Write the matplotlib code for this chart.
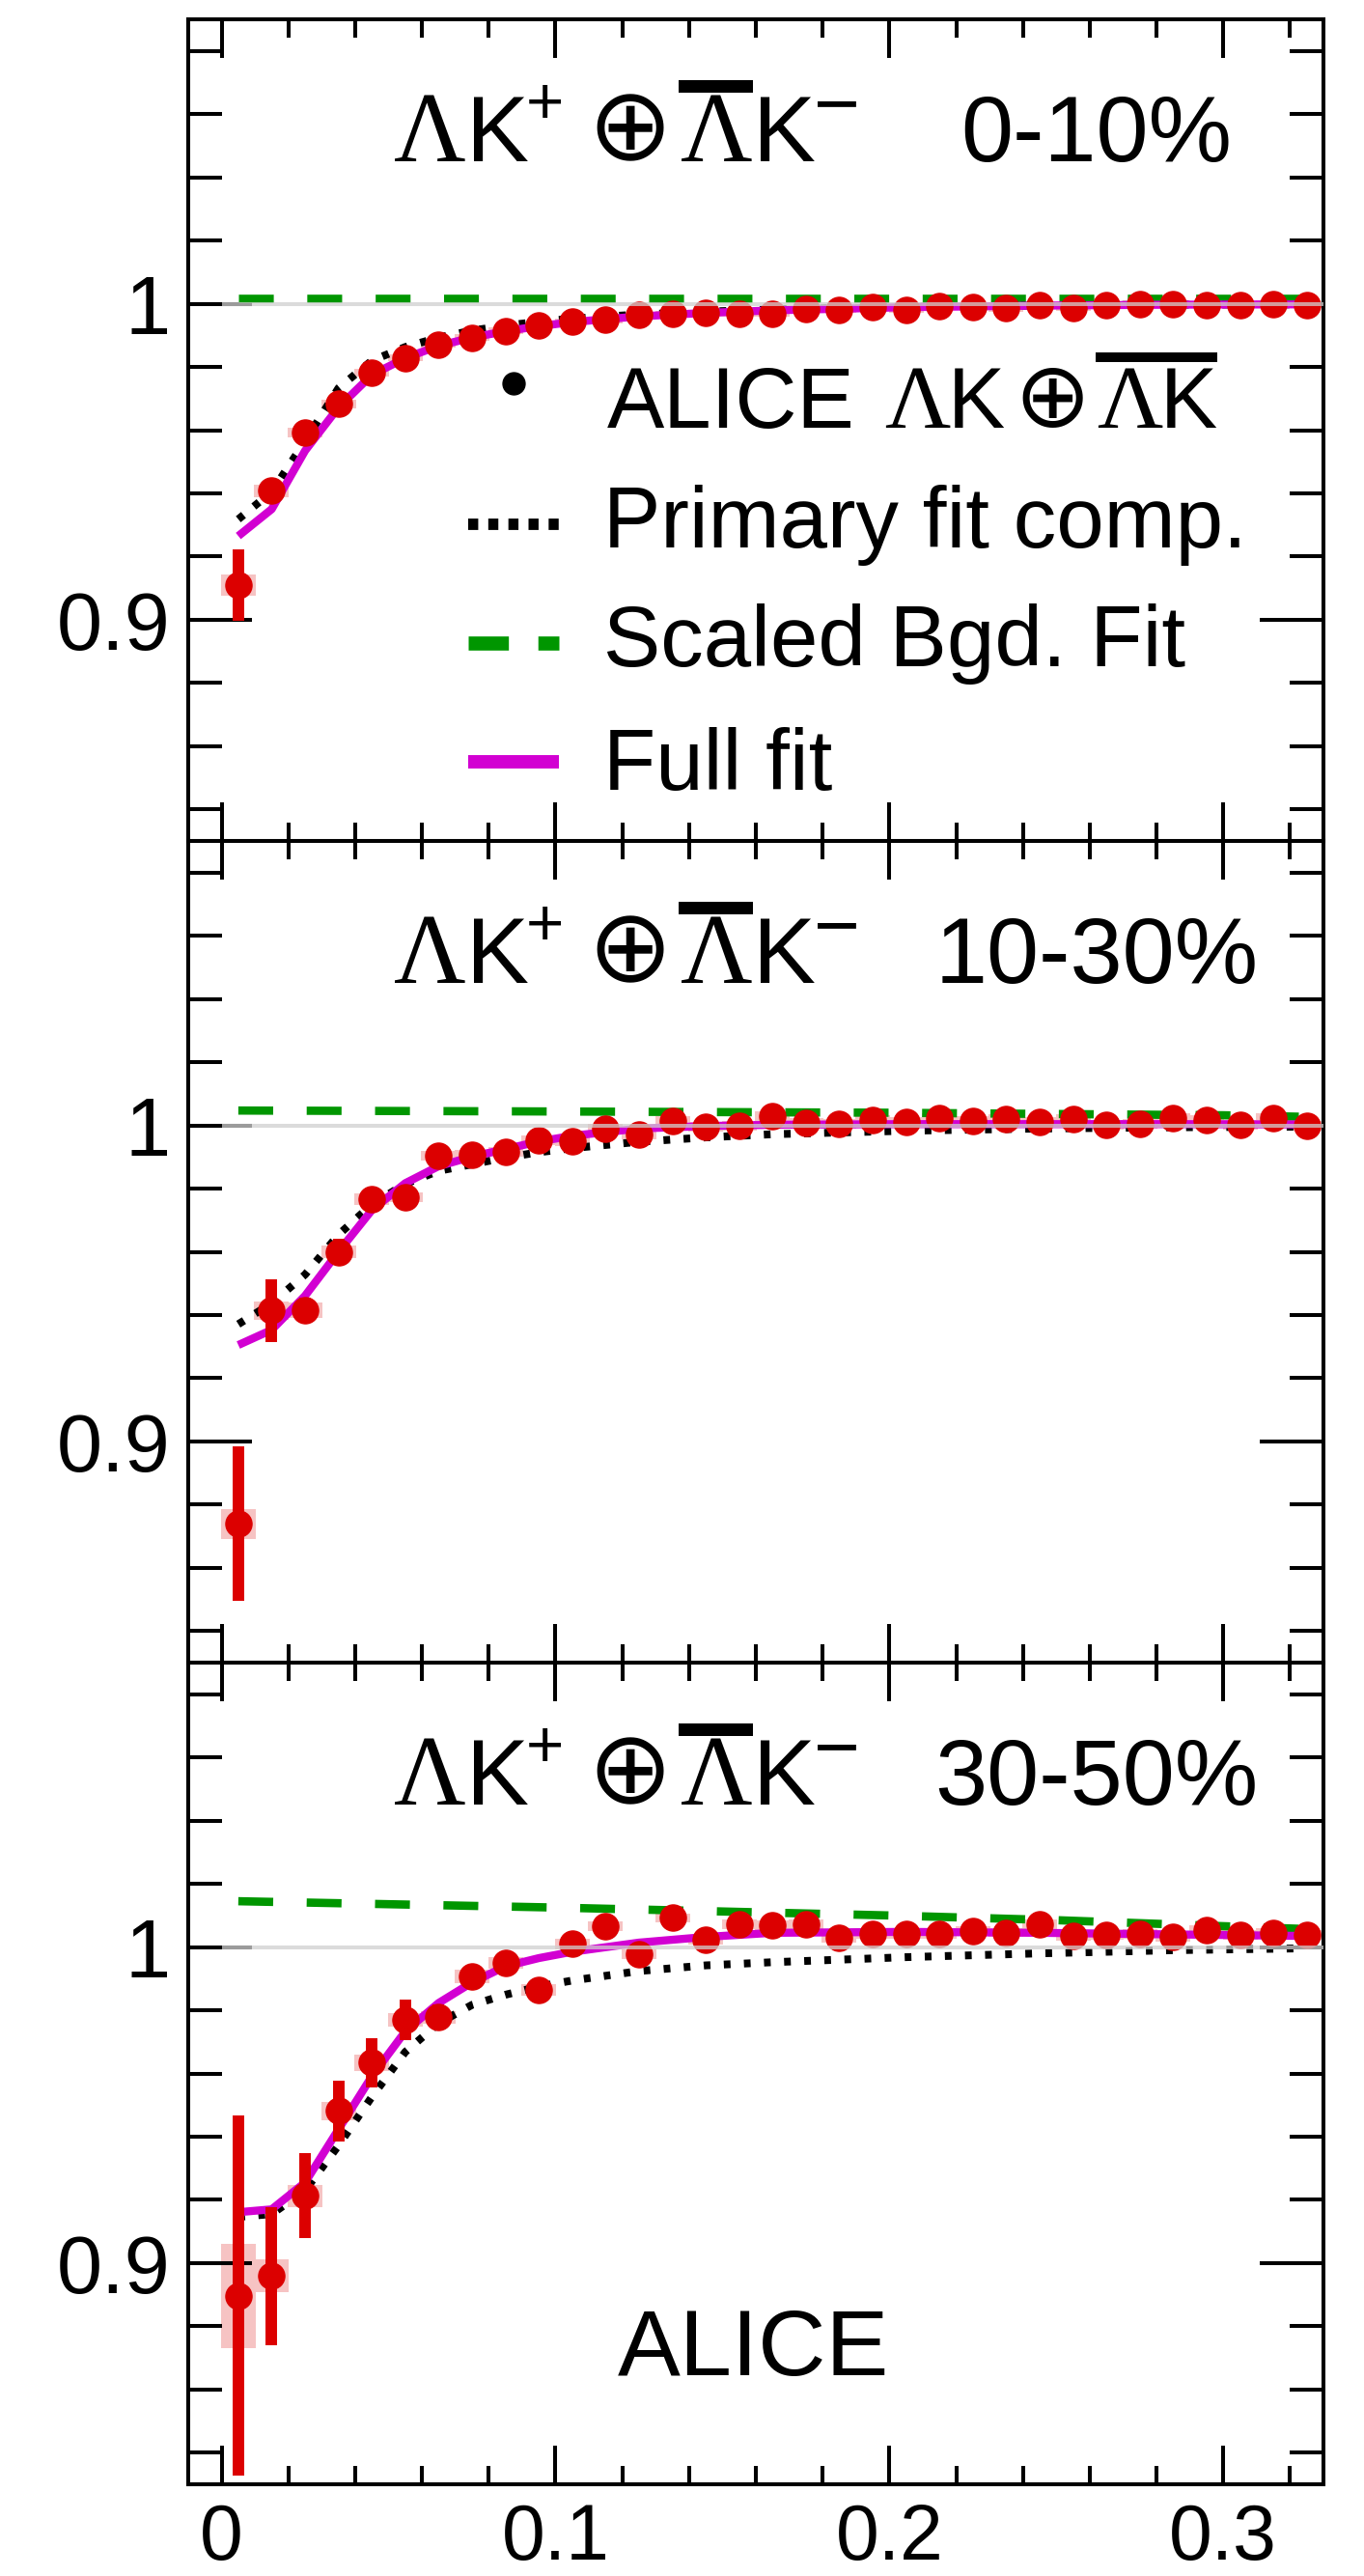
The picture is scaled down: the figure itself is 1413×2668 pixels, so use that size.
import numpy as np
import matplotlib
matplotlib.use("Agg")
import matplotlib.pyplot as plt
from matplotlib.patches import Rectangle
from matplotlib.lines import Line2D
from matplotlib.textpath import TextPath
from matplotlib.font_manager import FontProperties
from matplotlib.ticker import FixedLocator, FixedFormatter, MultipleLocator, FuncFormatter

plt.rcParams["font.family"] = ["Liberation Sans", "DejaVu Sans"]
plt.rcParams["lines.scale_dashes"] = False
plt.rcParams["lines.solid_capstyle"] = "butt"
plt.rcParams["lines.dash_capstyle"] = "butt"

# ------------------------------------------------------------------ data
centralities = ["0-10%", "10-30%", "30-50%"]

kstar = [0.005, 0.015, 0.025, 0.035, 0.045, 0.055, 0.065, 0.075, 0.085, 0.095,
         0.105, 0.115, 0.125, 0.135, 0.145, 0.155, 0.165, 0.175, 0.185, 0.195,
         0.205, 0.215, 0.225, 0.235, 0.245, 0.255, 0.265, 0.275, 0.285, 0.295,
         0.305, 0.315, 0.325]

cf_0_10 = [0.9110, 0.9408, 0.9593, 0.9683, 0.9781, 0.9829, 0.9870, 0.9893, 0.9914, 0.9932,
           0.9944, 0.9949, 0.9964, 0.9968, 0.9970, 0.9969, 0.9969, 0.9982, 0.9980, 0.9990,
           0.9980, 0.9992, 0.9990, 0.9985, 0.9995, 0.9988, 0.9995, 1.0000, 1.0000, 0.9995,
           0.9995, 1.0000, 0.9995]
stat_0_10 = [0.0112, 0.0030, 0.0025, 0.0022, 0.0020, 0.0018, 0.0017, 0.0016, 0.0015, 0.0015,
             0.0015, 0.0015, 0.0015, 0.0015, 0.0015, 0.0015, 0.0015, 0.0015, 0.0015, 0.0015,
             0.0015, 0.0015, 0.0015, 0.0015, 0.0015, 0.0015, 0.0015, 0.0015, 0.0015, 0.0015,
             0.0015, 0.0015, 0.0015]
sys_0_10 = [0.0033, 0.0020, 0.0016, 0.0014, 0.0012, 0.0011, 0.0010, 0.0010, 0.0010, 0.0010,
            0.0010, 0.0010, 0.0010, 0.0010, 0.0010, 0.0010, 0.0010, 0.0010, 0.0010, 0.0010,
            0.0010, 0.0010, 0.0010, 0.0010, 0.0010, 0.0010, 0.0010, 0.0010, 0.0010, 0.0010,
            0.0010, 0.0010, 0.0010]

cf_10_30 = [0.8739, 0.9414, 0.9416, 0.9600, 0.9767, 0.9773, 0.9903, 0.9906, 0.9915, 0.9952,
            0.9949, 0.9989, 0.9971, 1.0015, 0.9995, 0.9998, 1.0030, 1.0008, 1.0005, 1.0017,
            1.0012, 1.0022, 1.0014, 1.0019, 1.0010, 1.0020, 1.0001, 1.0006, 1.0023, 1.0018,
            1.0002, 1.0024, 0.9998]
stat_10_30 = [0.0244, 0.0099, 0.0040, 0.0042, 0.0030, 0.0030, 0.0025, 0.0025, 0.0022, 0.0022,
              0.0020, 0.0020, 0.0020, 0.0020, 0.0020, 0.0020, 0.0020, 0.0020, 0.0020, 0.0020,
              0.0020, 0.0020, 0.0020, 0.0020, 0.0020, 0.0020, 0.0020, 0.0020, 0.0020, 0.0020,
              0.0020, 0.0020, 0.0020]
sys_10_30 = [0.0048, 0.0030, 0.0025, 0.0020, 0.0018, 0.0016, 0.0015, 0.0015, 0.0015, 0.0015,
             0.0015, 0.0015, 0.0015, 0.0015, 0.0015, 0.0015, 0.0015, 0.0015, 0.0015, 0.0015,
             0.0015, 0.0015, 0.0015, 0.0015, 0.0015, 0.0015, 0.0015, 0.0015, 0.0015, 0.0015,
             0.0015, 0.0015, 0.0015]

cf_30_50 = [0.8897, 0.8959, 0.9213, 0.9481, 0.9634, 0.9769, 0.9778, 0.9907, 0.9950, 0.9865,
            1.0010, 1.0066, 0.9978, 1.0092, 1.0023, 1.0071, 1.0070, 1.0072, 1.0028, 1.0041,
            1.0041, 1.0041, 1.0052, 1.0046, 1.0072, 1.0034, 1.0038, 1.0041, 1.0031, 1.0054,
            1.0038, 1.0044, 1.0038]
stat_30_50 = [0.0570, 0.0218, 0.0135, 0.0095, 0.0077, 0.0065, 0.0040, 0.0032, 0.0030, 0.0030,
              0.0028, 0.0028, 0.0027, 0.0027, 0.0026, 0.0026, 0.0025, 0.0025, 0.0025, 0.0025,
              0.0025, 0.0025, 0.0025, 0.0025, 0.0025, 0.0025, 0.0025, 0.0025, 0.0025, 0.0025,
              0.0025, 0.0025, 0.0025]
sys_30_50 = [0.0165, 0.0052, 0.0035, 0.0030, 0.0025, 0.0022, 0.0020, 0.0020, 0.0018, 0.0018,
             0.0016, 0.0016, 0.0016, 0.0015, 0.0015, 0.0015, 0.0015, 0.0015, 0.0015, 0.0015,
             0.0015, 0.0015, 0.0015, 0.0015, 0.0015, 0.0015, 0.0015, 0.0015, 0.0015, 0.0015,
             0.0015, 0.0015, 0.0015]

# fit curves, sampled at bin centres
fit_kstar = [0.005, 0.015, 0.025, 0.035, 0.045, 0.055, 0.065, 0.075, 0.085, 0.095,
             0.105, 0.125, 0.145, 0.165, 0.205, 0.245, 0.285, 0.325]
full_0_10 = [0.9265, 0.9350, 0.9535, 0.9672, 0.9775, 0.9828, 0.9867, 0.9893, 0.9913, 0.9929,
             0.9942, 0.9960, 0.9971, 0.9979, 0.9989, 0.9994, 0.9997, 0.9998]
prim_0_10 = [0.9318, 0.9405, 0.9565, 0.9733, 0.9820, 0.9863, 0.9893, 0.9915, 0.9931, 0.9943,
             0.9953, 0.9966, 0.9975, 0.9982, 0.9990, 0.9994, 0.9997, 0.9998]
full_10_30 = [0.9305, 0.9353, 0.9461, 0.9600, 0.9732, 0.9817, 0.9871, 0.9901, 0.9925, 0.9949,
              0.9967, 0.9990, 0.9998, 1.0002, 1.0004, 1.0004, 1.0004, 1.0003]
prim_10_30 = [0.9371, 0.9437, 0.9528, 0.9654, 0.9750, 0.9815, 0.9856, 0.9877, 0.9898, 0.9915,
              0.9928, 0.9948, 0.9962, 0.9972, 0.9983, 0.9990, 0.9994, 0.9996]
full_30_50 = [0.9161, 0.9170, 0.9255, 0.9423, 0.9591, 0.9733, 0.9823, 0.9888, 0.9939, 0.9965,
              0.9985, 1.0014, 1.0032, 1.0045, 1.0048, 1.0045, 1.0040, 1.0035]
prim_30_50 = [0.9146, 0.9155, 0.9230, 0.9372, 0.9526, 0.9668, 0.9759, 0.9817, 0.9849, 0.9875,
              0.9894, 0.9924, 0.9942, 0.9952, 0.9968, 0.9980, 0.9990, 0.9996]

# scaled background fit
bgd_kstar = [0.005, 0.100, 0.200, 0.250, 0.300, 0.325]
bgd_0_10 = [1.0018, 1.0018, 1.0018, 1.0018, 1.0018, 1.0018]
bgd_10_30 = [1.0047, 1.0044, 1.0040, 1.0036, 1.0032, 1.0027]
bgd_30_50 = [1.0145, 1.0125, 1.0100, 1.0085, 1.0066, 1.0057]

panels = [
    (cf_0_10, stat_0_10, sys_0_10, full_0_10, prim_0_10, bgd_0_10),
    (cf_10_30, stat_10_30, sys_10_30, full_10_30, prim_10_30, bgd_10_30),
    (cf_30_50, stat_30_50, sys_30_50, full_30_50, prim_30_50, bgd_30_50),
]

# ------------------------------------------------------------------ style
RED = "#dc0000"
MAGENTA = "#d200d2"
GREEN = "#009600"
PINK = "#f6c3c3"
GRAY = "#d0d0d0"
SANS = "Liberation Sans"
SERIF = "Liberation Serif"
SYMB = "DejaVu Sans"

W_PX, H_PX, DPI = 1413, 2668, 100
LEFT_PX, RIGHT_PX = 195, 1371
TOP_PX, PANEL_PX = 20, 851

fig = plt.figure(figsize=(W_PX / DPI, H_PX / DPI), dpi=DPI)
PT2PX = DPI / 72.0


def ink_extent(s, family, size):
    tp = TextPath((0, 0), s, size=size, prop=FontProperties(family=family))
    return tp.get_extents()


def draw_formula(ax, x_axes, y_axes, pieces, size, bar_bottom=0.73, bar_thick=0.13):
    """Lay out text pieces left to right, by ink extent, from an axes anchor."""
    em = size * PT2PX
    x_px, base_px = ax.transAxes.transform((x_axes, y_axes))
    bar_l, bar_r = None, None
    for p in pieces:
        s, fam = p["s"], p.get("family", SANS)
        fs = size * p.get("scale", 1.0)
        if "height" in p:
            e1 = ink_extent(s, fam, 10.0)
            fs = p["height"] * size * 10.0 / e1.height
        if "width" in p:
            e1 = ink_extent(s, fam, 10.0)
            fs = p["width"] * size * 10.0 / e1.width
        ext = ink_extent(s, fam, fs)
        x_px += p.get("gap", 0.0) * em
        y = base_px
        if "center" in p:
            y = base_px + p["center"] * em - 0.5 * (ext.y0 + ext.y1) * PT2PX
        elif "bottom" in p:
            y = base_px + p["bottom"] * em - ext.y0 * PT2PX
        fig.text((x_px - ext.x0 * PT2PX) / W_PX, y / H_PX, s, family=fam,
                 fontsize=fs, ha="left", va="baseline", color="black")
        right = x_px + ext.width * PT2PX
        if p.get("bar"):
            bar_l = x_px if bar_l is None else bar_l
            bar_r = right
        x_px = right
    if bar_l is not None:
        fig.add_artist(Rectangle(((bar_l - 3) / W_PX, (base_px + bar_bottom * em) / H_PX),
                                 (bar_r - bar_l + 4) / W_PX, bar_thick * em / H_PX,
                                 transform=fig.transFigure, color="black", lw=0))


def style_axes(ax, show_xlabels):
    ax.set_xlim(-0.01, 0.33)
    ax.set_ylim(0.83, 1.09)
    ax.xaxis.set_major_locator(MultipleLocator(0.1))
    ax.xaxis.set_minor_locator(MultipleLocator(0.02))
    ax.xaxis.set_major_formatter(FuncFormatter(lambda v, _: "0" if abs(v) < 1e-9 else f"{v:.1f}"))
    ax.yaxis.set_major_locator(FixedLocator([0.9, 1.0]))
    ax.yaxis.set_major_formatter(FixedFormatter(["0.9", "1"]))
    ax.yaxis.set_minor_locator(MultipleLocator(0.02))
    ax.tick_params(which="both", direction="in", top=True, right=True, width=2.9, color="black")
    ax.tick_params(axis="y", which="major", length=47.5, labelsize=61, pad=13)
    ax.tick_params(axis="y", which="minor", length=25)
    ax.tick_params(axis="x", which="major", length=29, labelsize=58, pad=14)
    ax.tick_params(axis="x", which="minor", length=13.7)
    ax.tick_params(axis="x", labelbottom=show_xlabels)
    for sp in ax.spines.values():
        sp.set_linewidth(2.9)


axes = []
for i, (cf, stat, syst, full, prim, bgd) in enumerate(panels):
    top = TOP_PX + i * PANEL_PX
    ax = fig.add_axes([LEFT_PX / W_PX, 1 - (top + PANEL_PX) / H_PX,
                       (RIGHT_PX - LEFT_PX) / W_PX, PANEL_PX / H_PX])
    axes.append(ax)
    style_axes(ax, i == 2)

    cf, stat, syst = np.array(cf), np.array(stat), np.array(syst)
    ax.bar(kstar, 2 * syst, bottom=cf - syst, width=0.0104, color=PINK, lw=0, zorder=1.2)
    ax.plot(bgd_kstar, bgd, color=GREEN, lw=6.2, dashes=(26, 25), zorder=2.0)
    ax.plot(fit_kstar, prim, color="black", lw=5.8, dashes=(5, 10), zorder=2.1)
    ax.plot(fit_kstar, full, color=MAGENTA, lw=6.0, zorder=2.2)
    ax.errorbar(kstar, cf, yerr=stat, fmt="o", ms=19.5, color=RED, mec=RED,
                elinewidth=8.6, capsize=0, zorder=3)
    ax.hlines(1.0, 0.0, 0.33, colors=GRAY, lw=2.9, alpha=0.75, zorder=3.5)

    # system label and centrality class
    draw_formula(ax, 0.182, 0.8274, [
        {"s": "Λ", "family": SERIF, "scale": 1.06},
        {"s": "K", "gap": 0.094},
        {"s": "+", "height": 0.34, "center": 0.635, "gap": 0.02},
        {"s": "⊕", "family": SYMB, "height": 0.71, "bottom": 0.0, "gap": 0.375},
        {"s": "Λ", "family": SERIF, "scale": 1.06, "gap": 0.20, "bar": True},
        {"s": "K", "gap": 0.094},
        {"s": "−", "width": 0.41, "center": 0.615, "gap": 0.03},
    ], 70, bar_bottom=0.73, bar_thick=0.136)
    ax.text(0.800, 0.8274, centralities[i], transform=ax.transAxes, ha="center",
            va="baseline", fontsize=70, family=SANS)

# legend of the first panel
ax0 = axes[0]
ax0.add_line(Line2D([0.2866], [0.557], transform=ax0.transAxes, marker="o", ms=16.5,
                    color="black", ls="none", clip_on=False))
ax0.add_line(Line2D([0.2466, 0.3265], [0.3854, 0.3854], transform=ax0.transAxes,
                    color="black", lw=8.5, dashes=(7.5, 7.5), clip_on=False))
ax0.add_line(Line2D([0.2466, 0.3265], [0.2409, 0.2409], transform=ax0.transAxes,
                    color=GREEN, lw=10.5, dashes=(30, 22), clip_on=False))
ax0.add_line(Line2D([0.2466, 0.3265], [0.0964, 0.0964], transform=ax0.transAxes,
                    color=MAGENTA, lw=10.0, clip_on=False))

draw_formula(ax0, 0.3690, 0.5029, [
    {"s": "ALICE"},
    {"s": "Λ", "family": SERIF, "scale": 1.06, "gap": 0.40},
    {"s": "K", "gap": 0.057},
    {"s": "⊕", "family": SYMB, "height": 0.70, "bottom": 0.0, "gap": 0.217},
    {"s": "Λ", "family": SERIF, "scale": 1.06, "gap": 0.183, "bar": True},
    {"s": "K", "gap": 0.057, "bar": True},
], 64, bar_bottom=0.765, bar_thick=0.114)
for label, yb in [("Primary fit comp.", 0.3572), ("Scaled Bgd. Fit", 0.2127), ("Full fit", 0.0623)]:
    ax0.text(0.3656, yb, label, transform=ax0.transAxes, ha="left", va="baseline",
             fontsize=64, family=SANS)

axes[2].text(0.498, 0.1328, "ALICE", transform=axes[2].transAxes, ha="center",
             va="baseline", fontsize=70, family=SANS)

fig.savefig("out.png", dpi=DPI)
